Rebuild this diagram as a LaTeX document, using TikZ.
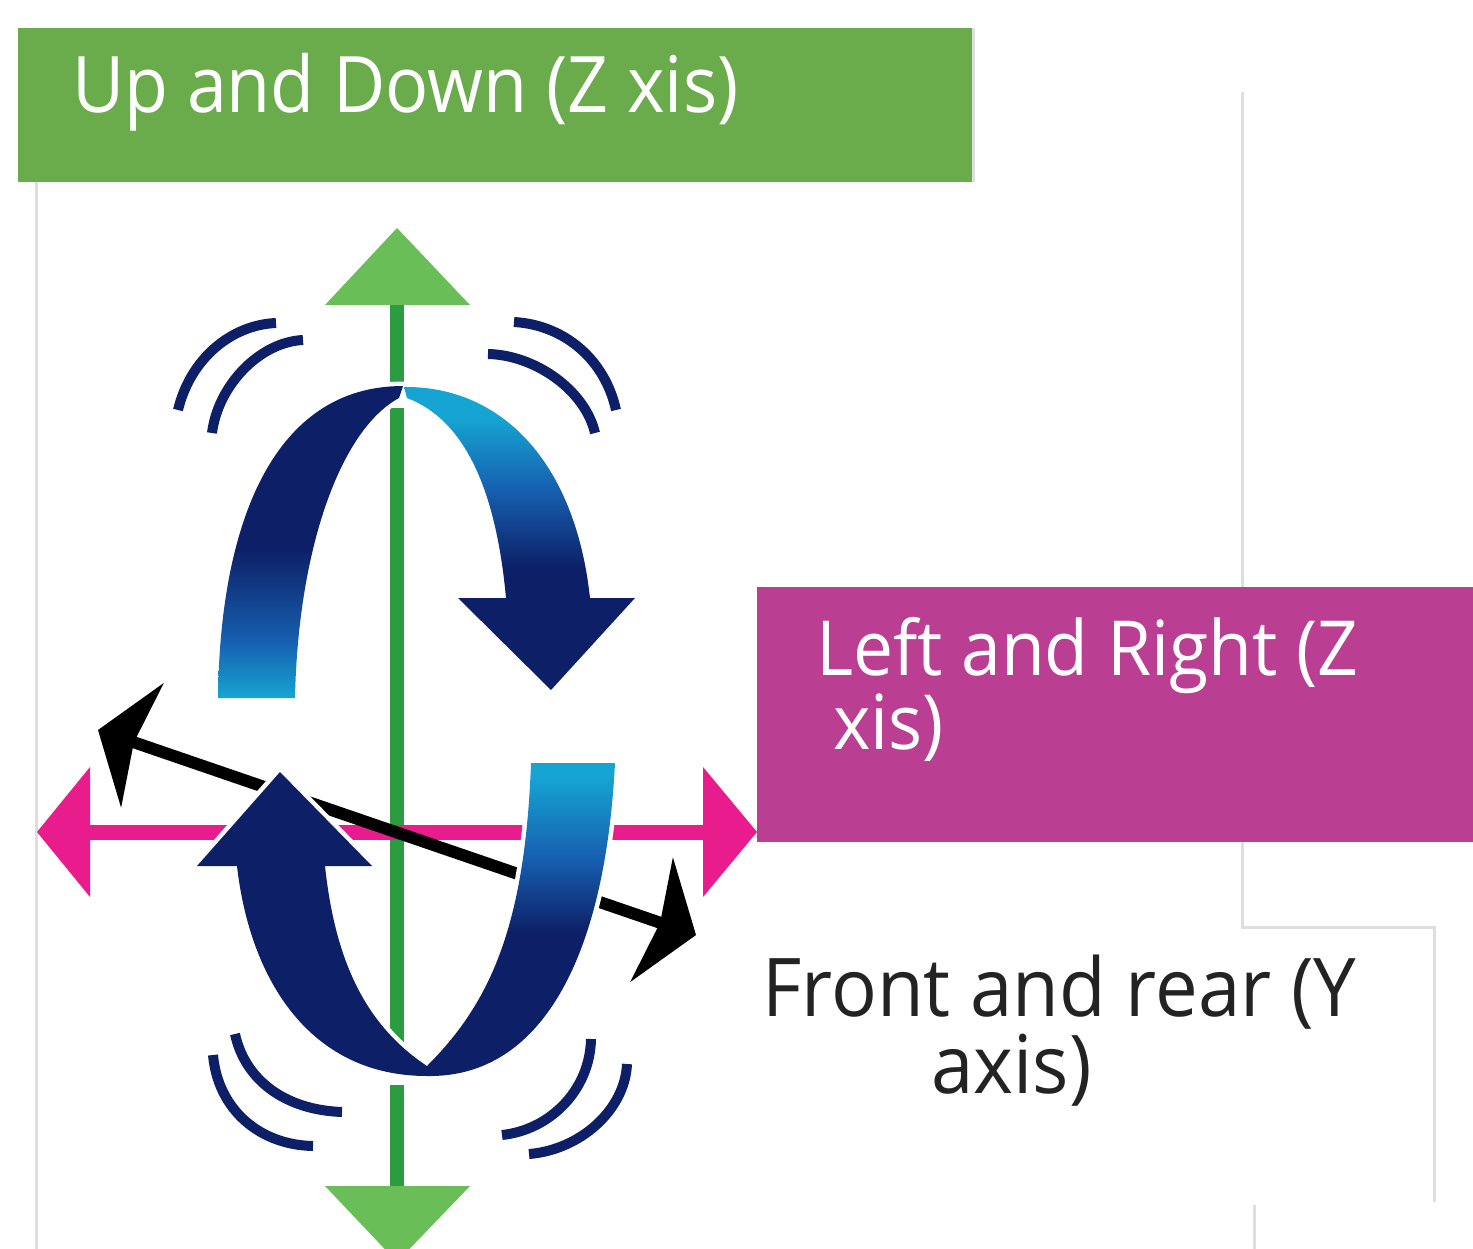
\documentclass[tikz,border=0pt]{standalone}
\usepackage{fontspec}
\setmainfont{Open Sans}
\usepackage{graphicx}
\definecolor{boxgreen}{RGB}{106,171,75}
\definecolor{boxmag}{RGB}{186,62,146}
\definecolor{zgreen}{RGB}{44,156,64}
\definecolor{zlight}{RGB}{106,190,88}
\definecolor{xmag}{RGB}{232,28,140}
\definecolor{navyc}{RGB}{13,31,102}
\definecolor{bluec}{RGB}{22,96,176}
\definecolor{cyanc}{RGB}{22,165,210}
\definecolor{framegray}{RGB}{222,222,222}
\definecolor{textdark}{RGB}{35,35,35}
\pgfdeclareverticalshading{tlsh}{100bp}{color(0bp)=(cyanc); color(25bp)=(cyanc); color(34bp)=(bluec); color(49bp)=(navyc); color(100bp)=(navyc)}
\pgfdeclareverticalshading{trsh}{100bp}{color(0bp)=(navyc); color(45bp)=(navyc); color(58bp)=(bluec); color(70bp)=(cyanc); color(100bp)=(cyanc)}
\pgfdeclareverticalshading{brsh}{100bp}{color(0bp)=(navyc); color(48bp)=(navyc); color(60bp)=(bluec); color(73bp)=(cyanc); color(100bp)=(cyanc)}
\tikzset{
  frameline/.style={draw=framegray, line width=3pt},
  halo/.style={draw=white, line width=9pt, line join=round},
  wave/.style={draw=navyc, line width=10pt},
  zline/.style={draw=zgreen, line width=14pt},
  zhead/.style={fill=zlight},
  xline/.style={draw=xmag, line width=15pt},
  xhead/.style={fill=xmag},
  yline/.style={draw=black, line width=12pt},
  yhead/.style={fill=black},
  lbl/.style={inner sep=0pt, anchor=base west},
}
\def\pathTL{(218,698) .. controls (220,520) and (275,386) .. (403,386) -- (399,398)
  .. controls (340,430) and (298,550) .. (295,698) -- cycle}
\def\pathTR{(404,387) .. controls (500,386) and (575,460) .. (590,598) -- (635,598) -- (551,690) -- (458,598) -- (506,598)
  .. controls (496,490) and (465,420) .. (407,398) -- cycle}
\def\pathBL{(280,772) -- (372,866) -- (325,866) .. controls (335,960) and (365,1025) .. (427,1066) -- (427,1076)
  .. controls (310,1076) and (250,980) .. (237,866) -- (197,866) -- cycle}
\def\pathBR{(531,763) -- (615,763) .. controls (605,960) and (540,1078) .. (427,1076) -- (427,1066)
  .. controls (488,1005) and (525,930) .. (531,763) -- cycle}
\begin{document}
\begin{tikzpicture}[x=1pt,y=-1pt]
\useasboundingbox (0,0) rectangle (1473,1249);
% faint frame lines
\draw[frameline] (36,182) -- (36,1249);
\draw[frameline] (973,28) -- (973,182);
\draw[frameline] (1242,92) -- (1242,927) -- (1434,927) -- (1434,1202);
\draw[frameline] (1254,1205) -- (1254,1249);
% banners
\fill[boxgreen] (18,28) rectangle (972,182);
\fill[boxmag] (757,587) rectangle (1473,842);
% green (up/down) axis, interrupted where the rotation arrows pass
\coordinate (zt) at (397,228);
\coordinate (zb) at (397,1262);
\coordinate (z1) at (397,300);
\coordinate (z2) at (397,383);
\coordinate (z3) at (397,408);
\coordinate (z4) at (397,1042);
\coordinate (z5) at (397,1085);
\coordinate (z6) at (397,1190);
\draw[zline] (z1) -- (z2);
\draw[zline] (z3) -- (z4);
\draw[zline] (z5) -- (z6);
\fill[zhead] (zt) -- (470,305) -- (325,305) -- cycle;
\fill[zhead] (zb) -- (470,1186) -- (325,1186) -- cycle;
% magenta (left/right) axis
\coordinate (xl) at (37,832);
\coordinate (xr) at (757,832);
\coordinate (xls) at (88,832);
\coordinate (xrs) at (705,832);
\draw[xline] (xls) -- (xrs);
\fill[xhead] (xl) -- (90,767) -- (90,897) -- cycle;
\fill[xhead] (xr) -- (703,767) -- (703,897) -- cycle;
% black (front/rear) axis
\coordinate (yl) at (98,730);
\coordinate (yr) at (696,935);
\coordinate (ylin) at (130.2,741.0);
\coordinate (yrin) at (663.8,924.0);
\draw[yline] (ylin) -- (yrin);
\fill[yhead] (yl) -- (163.9,682.9) -- (133.9,742.3) -- (121.1,807.7) -- cycle;
\fill[yhead] (yr) -- (672.9,857.3) -- (660.1,922.7) -- (630.1,982.1) -- cycle;
% rotation arrows: white halos first, then the bands
\draw[halo] \pathTL;
\draw[halo] \pathTR;
\draw[halo] \pathBL;
\draw[halo] \pathBR;
\shade[shading=tlsh] \pathTL;
\shade[shading=trsh] \pathTR;
\fill[navyc] \pathBL;
\shade[shading=brsh] \pathBR;
% motion waves
\draw[wave] (276,323) .. controls (230,325) and (190,360) .. (178,410);
\draw[wave] (303,340) .. controls (260,342) and (218,385) .. (212,433);
\draw[wave] (514,322) .. controls (565,325) and (605,360) .. (616,410);
\draw[wave] (488,354) .. controls (535,355) and (585,390) .. (595,433);
\draw[wave] (235,1034) .. controls (245,1080) and (285,1110) .. (342,1112);
\draw[wave] (213,1055) .. controls (218,1110) and (260,1145) .. (313,1146);
\draw[wave] (591,1039) .. controls (590,1090) and (550,1130) .. (502,1135);
\draw[wave] (627,1064) .. controls (625,1110) and (580,1150) .. (529,1154);
% labels
\node[lbl, text=white] (tud) at (72,113) {\fontsize{78}{94}\selectfont\scalebox{0.92}[1]{Up and Down (Z xis)}};
\node[lbl, text=white] (tlr1) at (816,675) {\fontsize{76}{90}\selectfont\scalebox{0.94}[1]{Left and Right (Z}};
\node[lbl, text=white] (tlr2) at (833,749) {\fontsize{76}{90}\selectfont\scalebox{0.94}[1]{xis)}};
\node[lbl, text=textdark] (tfr1) at (762,1016) {\fontsize{81}{96}\selectfont\scalebox{0.94}[1]{Front and rear (Y}};
\node[lbl, text=textdark] (tfr2) at (931,1093) {\fontsize{81}{96}\selectfont\scalebox{0.94}[1]{axis)}};
\end{tikzpicture}
\end{document}
